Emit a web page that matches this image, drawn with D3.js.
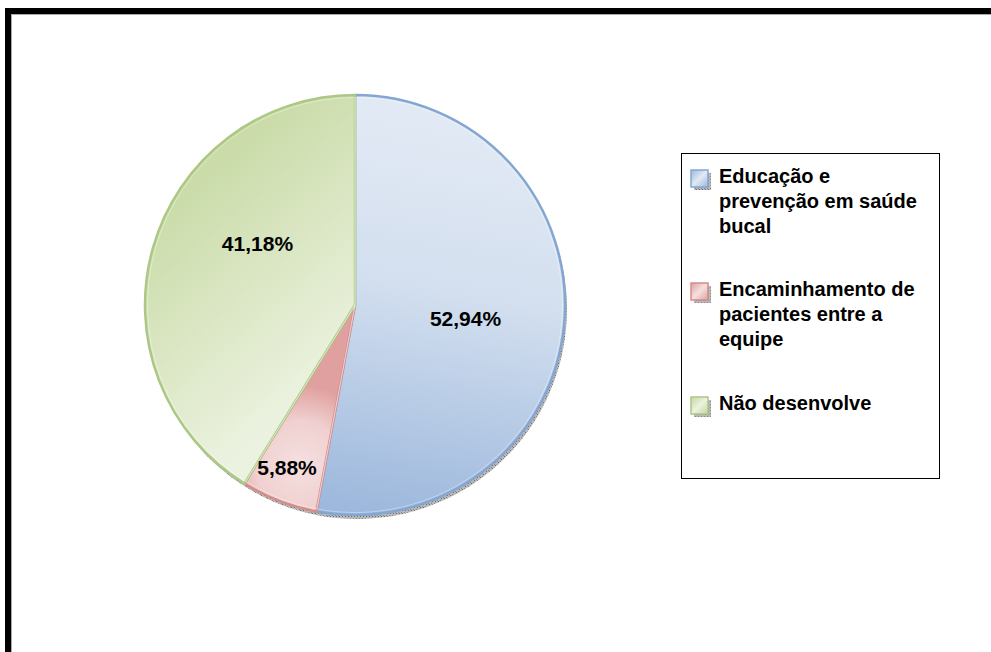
<!DOCTYPE html>
<html>
<head>
<meta charset="utf-8">
<script src="https://cdn.jsdelivr.net/npm/d3@7"></script>
<style>
  html, body { margin: 0; padding: 0; background: #fff; }
  svg { display: block; font-family: "Liberation Sans", Arial, Helvetica, sans-serif; }
</style>
</head>
<body>
<svg id="chart" width="991" height="652"></svg>
<script>
// Categories and their shares (%)
const categories = [
  "Educação e prevenção em saúde bucal",
  "Encaminhamento de pacientes entre a equipe",
  "Não desenvolve"
];
const values = [52.94, 5.88, 41.18];
const valueLabels = ["52,94%", "5,88%", "41,18%"];
const legendLines = [
  ["Educação e", "prevenção em saúde", "bucal"],
  ["Encaminhamento de", "pacientes entre a", "equipe"],
  ["Não desenvolve"]
];

const palette = [
  { light: "#e1e9f4", dark: "#9bb7dc", edge: "#84a6d3" },
  { light: "#f5e0e0", dark: "#dfa09f", edge: "#d58d8b" },
  { light: "#ecf2e0", dark: "#c3d79d", edge: "#adc885" }
];

const svg = d3.select("#chart");
const defs = svg.append("defs");

// Outer frame
svg.append("rect")
  .attr("x", 8).attr("y", 11).attr("width", 1000).attr("height", 700)
  .attr("fill", "none").attr("stroke", "#000").attr("stroke-width", 6);
svg.append("rect")
  .attr("x", 11.5).attr("y", 14.5).attr("width", 1000).attr("height", 700)
  .attr("fill", "none").attr("stroke", "#aaa").attr("stroke-width", 1);

// Hatched shadow pattern
const pat = defs.append("pattern")
  .attr("id", "shadowHatch").attr("patternUnits", "userSpaceOnUse")
  .attr("width", 3).attr("height", 3);
pat.append("rect").attr("width", 3).attr("height", 3).attr("fill", "#b8b8b8");
pat.append("rect").attr("width", 1).attr("height", 1).attr("fill", "#6e6e6e");
pat.append("rect").attr("x", 2).attr("y", 2).attr("width", 1).attr("height", 1).attr("fill", "#8a8a8a");

const cx = 355, cy = 305, r = 210;

// Slice gradients (coordinates relative to the pie centre)
const gBlue = defs.append("linearGradient").attr("id", "grad0")
  .attr("gradientUnits", "userSpaceOnUse")
  .attr("x1", 60).attr("y1", -180).attr("x2", -10).attr("y2", 210);
gBlue.append("stop").attr("offset", 0).attr("stop-color", palette[0].light);
gBlue.append("stop").attr("offset", 0.4).attr("stop-color", "#d3dfef");
gBlue.append("stop").attr("offset", 1).attr("stop-color", palette[0].dark);

const gRed = defs.append("radialGradient").attr("id", "grad1")
  .attr("gradientUnits", "userSpaceOnUse")
  .attr("cx", -55).attr("cy", 160).attr("r", 80);
gRed.append("stop").attr("offset", 0).attr("stop-color", palette[1].light);
gRed.append("stop").attr("offset", 0.55).attr("stop-color", "#f0d0d0");
gRed.append("stop").attr("offset", 1).attr("stop-color", palette[1].dark);

const gGreen = defs.append("linearGradient").attr("id", "grad2")
  .attr("gradientUnits", "userSpaceOnUse")
  .attr("x1", -200).attr("y1", -160).attr("x2", -10).attr("y2", 60);
gGreen.append("stop").attr("offset", 0).attr("stop-color", palette[2].dark);
gGreen.append("stop").attr("offset", 1).attr("stop-color", palette[2].light);

// Legend marker gradients
palette.forEach((p, i) => {
  const g = defs.append("linearGradient").attr("id", "lg" + i)
    .attr("x1", 0).attr("y1", 0).attr("x2", 1).attr("y2", 1);
  g.append("stop").attr("offset", 0).attr("stop-color", p.dark);
  g.append("stop").attr("offset", 0.5).attr("stop-color", p.light);
  g.append("stop").attr("offset", 1).attr("stop-color", p.dark);
});

const pie = d3.pie().sort(null).value(d => d)(values);
const arc = d3.arc().innerRadius(0).outerRadius(r);
const inset = d3.arc().innerRadius(0).outerRadius(r - 2.5);

const plot = svg.append("g").attr("transform", `translate(${cx},${cy})`);

// Drop shadow
plot.append("g").attr("transform", "translate(2,4)")
  .selectAll("path").data(pie).join("path")
  .attr("d", arc).attr("fill", "url(#shadowHatch)");

// Slices
plot.append("g").selectAll("path").data(pie).join("path")
  .attr("d", arc)
  .attr("fill", (d, i) => `url(#grad${i})`)
  .attr("stroke", (d, i) => palette[i].edge)
  .attr("stroke-width", 2.5)
  .attr("stroke-linejoin", "round");

// Thin inner highlight along each slice edge
plot.append("g").selectAll("path").data(pie).join("path")
  .attr("d", inset)
  .attr("fill", "none")
  .attr("stroke", "#ffffff").attr("stroke-opacity", 0.35)
  .attr("stroke-width", 1);

// Value labels: radial fraction and angular nudge (degrees) per slice
const labelRadius = [0.53, 0.84, 0.55];
const labelNudge = [1.5, 1.5, 16.5];
plot.append("g").selectAll("text").data(pie).join("text")
  .attr("transform", (d, i) => {
    const a = (d.startAngle + d.endAngle) / 2 + labelNudge[i] * Math.PI / 180;
    const rr = r * labelRadius[i];
    return `translate(${Math.sin(a) * rr},${-Math.cos(a) * rr})`;
  })
  .attr("text-anchor", "middle")
  .attr("dy", "0.36em")
  .attr("font-size", 21).attr("font-weight", "bold").attr("fill", "#000")
  .text((d, i) => valueLabels[i]);

// Legend
const lx = 681, ly = 153, lw = 258, lh = 325;
const legend = svg.append("g");
legend.append("rect")
  .attr("x", lx + 0.5).attr("y", ly + 0.5).attr("width", lw).attr("height", lh)
  .attr("fill", "#fff").attr("stroke", "#000").attr("stroke-width", 1);

const itemTop = [183, 296, 410];
const lineH = 25;
categories.forEach((c, i) => {
  const g = legend.append("g");
  const my = itemTop[i] - 13;
  g.append("rect").attr("x", 694).attr("y", my + 3).attr("width", 17).attr("height", 17)
    .attr("fill", "url(#shadowHatch)");
  g.append("rect").attr("x", 691).attr("y", my).attr("width", 17).attr("height", 17)
    .attr("fill", `url(#lg${i})`).attr("stroke", palette[i].edge).attr("stroke-width", 1.5);
  const t = g.append("text")
    .attr("x", 719).attr("y", itemTop[i])
    .attr("font-size", 20).attr("font-weight", "bold").attr("fill", "#000");
  legendLines[i].forEach((line, k) => {
    t.append("tspan").attr("x", 719).attr("y", itemTop[i] + k * lineH).text(line);
  });
});
</script>
</body>
</html>
